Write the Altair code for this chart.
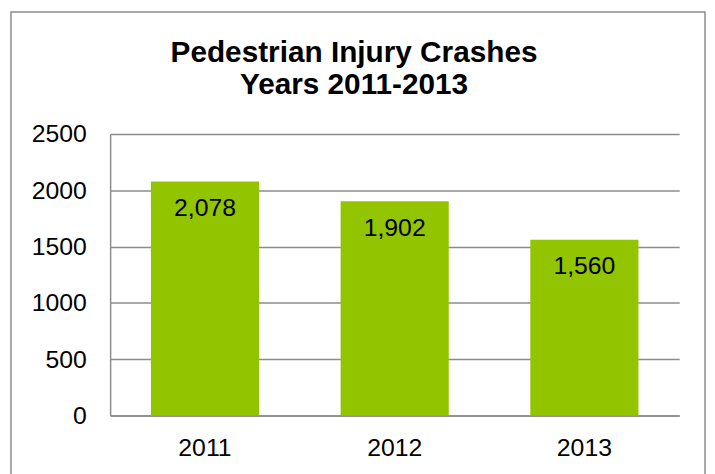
import altair as alt
import pandas as pd

years = ["2011", "2012", "2013"]
crashes = [2078, 1902, 1560]
y_ticks = [0, 500, 1000, 1500, 2000, 2500]
title_text = "Pedestrian Injury Crashes\nYears 2011-2013"

df = pd.DataFrame({"year": years, "crashes": crashes})

FONT = "Liberation Sans"
GREEN = "#92C500"
GRAY = "#8C8C8C"

x_enc = alt.X(
    "year:N", sort=years, title=None,
    scale=alt.Scale(paddingInner=0.43, paddingOuter=0.215),
    axis=alt.Axis(labelAngle=0, ticks=False, tickSize=0, labelPadding=40,
                  labelBaseline="alphabetic", domainColor=GRAY, domainWidth=1.5,
                  labelFontSize=25, labelFont=FONT, labelColor="#000000", grid=False),
)
y_enc = alt.Y(
    "crashes:Q", title=None,
    scale=alt.Scale(domain=[0, 2500], nice=False),
    axis=alt.Axis(values=y_ticks, format="d", ticks=False, tickSize=0, labelPadding=24,
                  domainColor=GRAY, domainWidth=1.5, grid=True, gridColor=GRAY,
                  gridWidth=1.5, labelFontSize=25, labelFont=FONT, labelColor="#000000",
                  labelFlush=False),
)

frame = alt.Chart(pd.DataFrame({"f": [0]})).mark_rect(
    fill="transparent", stroke=GRAY, strokeWidth=1.5
).encode(x=alt.value(-100), x2=alt.value(600), y=alt.value(-123), y2=alt.value(420))

bars = alt.Chart(df).mark_bar(color=GREEN).encode(x=x_enc, y=y_enc)

labels = alt.Chart(df).mark_text(
    dy=35, baseline="alphabetic", fontSize=25, font=FONT, color="#000000"
).encode(x=alt.X("year:N", sort=years), y=alt.Y("crashes:Q"), text=alt.Text("crashes:Q", format=","))

title = alt.Chart(pd.DataFrame({"t": [title_text]})).mark_text(
    lineBreak="\n", lineHeight=33, fontSize=30, fontWeight="bold", font=FONT,
    baseline="alphabetic", align="center", color="#000000"
).encode(x=alt.value(246), y=alt.value(-73), text="t:N")

chart = alt.layer(frame, bars, labels, title).properties(
    width=574, height=284,
    autosize=alt.AutoSizeParams(type="none"),
    padding={"left": 103, "top": 125, "right": 28, "bottom": 57},
    background="white",
).configure_view(stroke=None)

chart.save("out.html", embed_options={"renderer": "svg", "actions": False})
